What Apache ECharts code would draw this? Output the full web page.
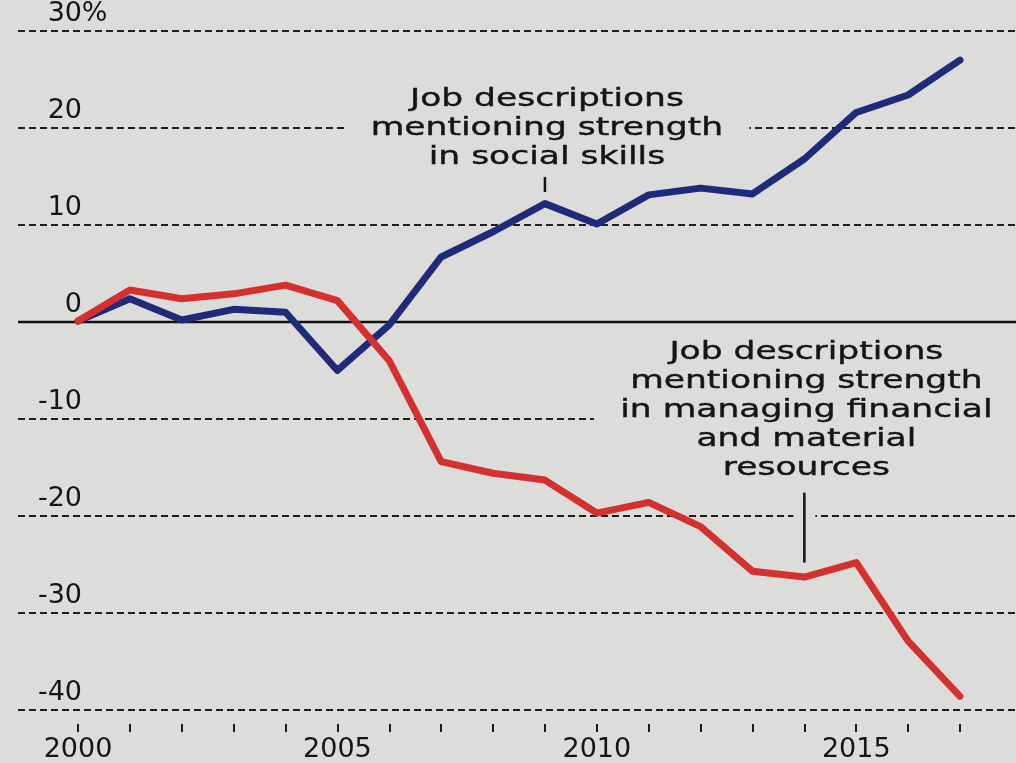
<!DOCTYPE html>
<html>
<head>
<meta charset="utf-8">
<script src="https://cdn.jsdelivr.net/npm/echarts@6/dist/echarts.min.js"></script>
<style>
html,body{margin:0;padding:0;background:#dcdcda;}
#c{width:1016px;height:763px;}
</style>
</head>
<body>
<div id="c"></div>
<script>
// ---- data ----
const years = [2000,2001,2002,2003,2004,2005,2006,2007,2008,2009,2010,2011,2012,2013,2014,2015,2016,2017];
const socialSkills = [0, 2.3, 0.1, 1.2, 0.9, -5.1, -0.4, 6.6, 9.2, 12.1, 10.0, 13.0, 13.7, 13.1, 16.7, 21.5, 23.3, 26.9];
const financialResources = [0, 3.2, 2.3, 2.8, 3.7, 2.1, -4.1, -14.5, -15.7, -16.4, -19.8, -18.7, -21.2, -25.8, -26.4, -24.9, -33.0, -38.7];
const yTickValues = [-40, -30, -20, -10, 0, 10, 20, 30];
const xLabelYears = [2000, 2005, 2010, 2015];
const baseline = [[0, 0], [1, 0]];
const socialLabel = ['Job descriptions', 'mentioning strength', 'in social skills'];
const financialLabel = ['Job descriptions', 'mentioning strength', 'in managing financial', 'and material', 'resources'];
// annotation anchors in data space: [year, textBottom, leaderTop, leaderBottom]
const socialAnchor = [2009, 14.95, 14.85, 13.3];
const financialAnchor = [2014, -17.1, -17.7, -24.9];

const FONT = '"DejaVu Sans", "Noto Sans", sans-serif';
const BG = '#dcdcda';
const INK = '#151515';

const chart = echarts.init(document.getElementById('c'), null, {renderer: 'canvas'});

const option = {
  backgroundColor: BG,
  animation: false,
  grid: [
    {left: 18, right: 0, top: 30, bottom: 53},
    {left: 78, right: 56, top: 30, bottom: 53}
  ],
  xAxis: [
    {gridIndex: 0, type: 'value', min: 0, max: 1, show: false},
    {
      gridIndex: 1, type: 'value', min: years[0], max: years[years.length - 1], interval: 1,
      position: 'bottom', offset: 15,
      axisLine: {show: false, onZero: false},
      axisTick: {show: true, length: 8, lineStyle: {color: '#1a1a1a', width: 2}},
      splitLine: {show: false},
      axisLabel: {
        margin: 12, fontSize: 27, fontFamily: FONT, color: INK,
        formatter: v => xLabelYears.includes(v) ? String(v) : ''
      }
    }
  ],
  yAxis: [
    {
      gridIndex: 0, type: 'value', min: yTickValues[0], max: yTickValues[yTickValues.length - 1], interval: 10,
      axisLine: {show: false}, axisTick: {show: false},
      splitLine: {show: true, lineStyle: {color: '#1e1e1e', width: 1.8, type: [7, 4]}},
      axisLabel: {
        inside: true, margin: 89, align: 'right', verticalAlign: 'bottom', padding: [0, 0, 4, 0],
        formatter: v => v === 30 ? '{n|30}{p|%}' : '{n|' + v + '}{q|}',
        rich: {
          n: {fontSize: 27, fontFamily: FONT, color: INK},
          p: {width: 25, align: 'left', fontSize: 27, fontFamily: FONT, color: INK},
          q: {width: 25, fontSize: 27, fontFamily: FONT}
        }
      }
    },
    {gridIndex: 1, type: 'value', min: yTickValues[0], max: yTickValues[yTickValues.length - 1], interval: 10, show: false}
  ],
  series: [
    {
      name: 'zero', type: 'line', xAxisIndex: 0, yAxisIndex: 0, data: baseline,
      showSymbol: false, silent: true, z: 2,
      lineStyle: {color: '#111', width: 2.5}
    },
    {
      name: 'social', type: 'line', xAxisIndex: 1, yAxisIndex: 1,
      data: years.map((y, i) => [y, socialSkills[i]]),
      showSymbol: false, z: 4,
      lineStyle: {color: '#1f2b7a', width: 7, cap: 'round', join: 'round'}
    },
    {
      name: 'financial', type: 'line', xAxisIndex: 1, yAxisIndex: 1,
      data: years.map((y, i) => [y, financialResources[i]]),
      showSymbol: false, z: 5,
      lineStyle: {color: '#d4302e', width: 7, cap: 'round', join: 'round'}
    }
  ]
};
chart.setOption(option);

function px(x, y) { return chart.convertToPixel({gridIndex: 1}, [x, y]); }

function annotation(lines, anchor) {
  const bottom = px(anchor[0], anchor[1]);
  const lt = px(anchor[0], anchor[2]);
  const lb = px(anchor[0], anchor[3]);
  return [
    {
      type: 'text', x: bottom[0] + 2, y: bottom[1], scaleX: 1.38, z: 20,
      style: {
        text: lines.join('\n'), fill: INK, fontSize: 25, fontFamily: FONT,
        align: 'center', verticalAlign: 'bottom', lineHeight: 29,
        backgroundColor: BG, padding: [2, 19, 4, 19],
        stroke: INK, lineWidth: 0.4
      }
    },
    {
      type: 'line', z: 21,
      shape: {x1: lt[0], y1: lt[1], x2: lb[0], y2: lb[1]},
      style: {stroke: '#111', lineWidth: 2.5}
    }
  ];
}

const gapCentre = px(financialAnchor[0], -20);
chart.setOption({
  graphic: [
    {
      type: 'rect', z: 19,
      shape: {x: gapCentre[0] - 11, y: gapCentre[1] - 3, width: 22, height: 6},
      style: {fill: BG}
    }
  ].concat(annotation(socialLabel, socialAnchor), annotation(financialLabel, financialAnchor))
});
</script>
</body>
</html>
